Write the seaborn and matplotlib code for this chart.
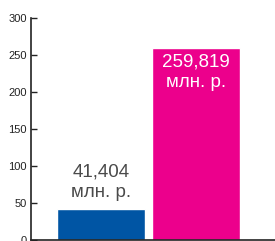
import matplotlib
matplotlib.use("Agg")
import matplotlib.pyplot as plt
import seaborn as sns

categories = ["2015", "2016"]
values = [41.404, 259.819]
labels = ["41,404\nмлн. р.", "259,819\nмлн. р."]
colors = ["#0055a4", "#ec008c"]
label_colors = ["#4a4a4a", "#ffffff"]

sns.set_style("white")
plt.rcParams['font.family'] = ['Liberation Sans', 'DejaVu Sans']

fig = plt.figure(figsize=(2.75, 2.41), dpi=100)
ax = fig.add_axes([31 / 275, 1 / 241, 1 - 31 / 275, 1 - 19 / 241])

sns.barplot(x=categories, y=values, hue=categories, palette=colors,
            width=0.92, legend=False, ax=ax, saturation=1)

ax.set_ylim(0, 300)
ax.set_xlim(-0.737, 1.83)
ax.set_yticks([0, 50, 100, 150, 200, 250, 300])
ax.set_xticks([])
ax.tick_params(axis='y', direction='in', length=4, width=1, colors='#222222',
               labelsize=8, pad=3, left=True)
for s in ['top', 'right']:
    ax.spines[s].set_visible(False)
for s in ['left', 'bottom']:
    ax.spines[s].set_color('#222222')
    ax.spines[s].set_linewidth(1.2)

# подписи значений
ax.text(0, values[0] + 37, labels[0], ha='center', va='center', fontsize=13.5,
        color=label_colors[0], linespacing=1.3)
ax.text(1, values[1] - 33, labels[1], ha='center', va='center', fontsize=13.5,
        color=label_colors[1], linespacing=1.3)

ax.set_xlabel("")
ax.set_ylabel("")
fig.savefig("out.png", dpi=100)
